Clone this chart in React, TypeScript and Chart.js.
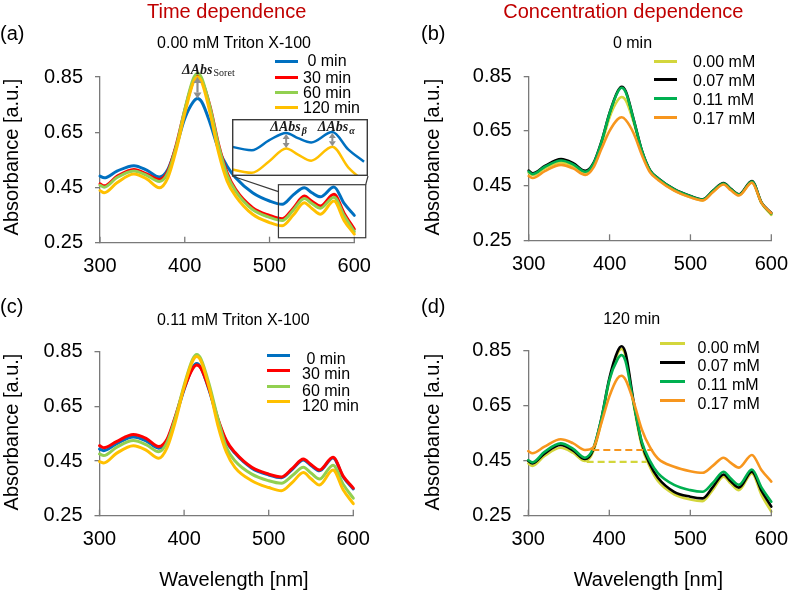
import React, { useEffect, useRef } from "react";
import { Chart, registerables } from "chart.js";

Chart.register(...registerables);

const FONT = "'Liberation Sans', Arial, Helvetica, sans-serif";
const SERIF = "'Liberation Serif', 'Times New Roman', serif";
const AXIS = "#7a7a7a";
const ARROW = "#8e8e8e";
const BOX = "#3a3a3a";

// ---------------- data ----------------
const WAVELENGTH = [300, 305, 320, 340, 355, 370, 380, 390, 400, 410, 415, 420, 430, 440, 450, 460, 480, 500, 515, 528, 541, 550, 560, 576, 588, 600];

const X_TICKS = [300, 400, 500, 600];
const Y_TICKS = [0.25, 0.45, 0.65, 0.85];

const TIME_LABELS = [" 0 min", "30 min", "60 min", "120 min"];
const CONC_LABELS = ["0.00 mM", "0.07 mM", "0.11 mM", "0.17 mM"];

const TIME_COLORS = ["#0070c0", "#ff0000", "#92d050", "#ffc000"];
const CONC_COLORS = ["#d3d63c", "#000000", "#00b050", "#f7961e"];

// (a) 0.00 mM Triton X-100
const A_0MIN = [0.491, 0.485, 0.509, 0.529, 0.513, 0.488, 0.515, 0.599, 0.700, 0.760, 0.772, 0.760, 0.682, 0.587, 0.527, 0.485, 0.431, 0.401, 0.389, 0.423, 0.449, 0.431, 0.416, 0.452, 0.392, 0.349];
const A_30MIN = [0.463, 0.456, 0.490, 0.515, 0.499, 0.479, 0.509, 0.605, 0.730, 0.835, 0.856, 0.838, 0.742, 0.605, 0.503, 0.443, 0.377, 0.349, 0.337, 0.375, 0.419, 0.400, 0.383, 0.425, 0.357, 0.299];
const A_60MIN = [0.458, 0.451, 0.486, 0.510, 0.494, 0.472, 0.503, 0.600, 0.732, 0.843, 0.864, 0.846, 0.738, 0.600, 0.495, 0.437, 0.370, 0.342, 0.330, 0.368, 0.410, 0.392, 0.375, 0.415, 0.348, 0.290];
const A_120MIN = [0.439, 0.431, 0.467, 0.499, 0.481, 0.449, 0.485, 0.587, 0.718, 0.830, 0.850, 0.832, 0.718, 0.575, 0.473, 0.419, 0.353, 0.323, 0.311, 0.350, 0.395, 0.374, 0.353, 0.401, 0.330, 0.281];

// (b) 0 min
const B_000 = [0.497, 0.489, 0.513, 0.535, 0.522, 0.497, 0.525, 0.600, 0.700, 0.762, 0.774, 0.762, 0.680, 0.575, 0.503, 0.473, 0.432, 0.408, 0.396, 0.428, 0.456, 0.436, 0.416, 0.462, 0.385, 0.343];
const B_007 = [0.505, 0.495, 0.522, 0.547, 0.532, 0.504, 0.532, 0.612, 0.716, 0.795, 0.812, 0.795, 0.690, 0.578, 0.507, 0.477, 0.437, 0.412, 0.400, 0.432, 0.459, 0.438, 0.418, 0.467, 0.388, 0.350];
const B_011 = [0.501, 0.492, 0.519, 0.542, 0.528, 0.501, 0.530, 0.610, 0.714, 0.792, 0.808, 0.792, 0.688, 0.577, 0.506, 0.476, 0.436, 0.411, 0.399, 0.431, 0.458, 0.437, 0.417, 0.465, 0.387, 0.347];
const B_017 = [0.485, 0.478, 0.503, 0.526, 0.513, 0.489, 0.516, 0.585, 0.650, 0.693, 0.700, 0.690, 0.640, 0.562, 0.499, 0.471, 0.432, 0.407, 0.396, 0.427, 0.454, 0.433, 0.414, 0.461, 0.386, 0.349];

// (c) 0.11 mM Triton X-100
const C_0MIN = [0.494, 0.488, 0.513, 0.538, 0.524, 0.497, 0.526, 0.612, 0.712, 0.792, 0.807, 0.790, 0.705, 0.600, 0.521, 0.479, 0.424, 0.399, 0.389, 0.420, 0.454, 0.434, 0.414, 0.461, 0.392, 0.348];
const C_30MIN = [0.506, 0.499, 0.521, 0.547, 0.533, 0.503, 0.531, 0.617, 0.715, 0.787, 0.801, 0.789, 0.709, 0.605, 0.525, 0.482, 0.427, 0.402, 0.392, 0.423, 0.457, 0.437, 0.417, 0.464, 0.395, 0.351];
const C_60MIN = [0.476, 0.470, 0.500, 0.525, 0.510, 0.484, 0.519, 0.612, 0.727, 0.822, 0.840, 0.823, 0.727, 0.605, 0.500, 0.451, 0.402, 0.378, 0.369, 0.397, 0.427, 0.406, 0.384, 0.435, 0.365, 0.314];
const C_120MIN = [0.448, 0.443, 0.478, 0.506, 0.490, 0.460, 0.500, 0.598, 0.721, 0.815, 0.832, 0.815, 0.715, 0.580, 0.482, 0.427, 0.378, 0.353, 0.341, 0.372, 0.408, 0.385, 0.362, 0.417, 0.345, 0.294];

// (d) 120 min
const D_000 = [0.440, 0.431, 0.467, 0.497, 0.479, 0.449, 0.483, 0.590, 0.740, 0.838, 0.856, 0.832, 0.655, 0.505, 0.428, 0.376, 0.328, 0.309, 0.303, 0.345, 0.392, 0.367, 0.343, 0.404, 0.325, 0.265];
const D_007 = [0.449, 0.440, 0.476, 0.507, 0.488, 0.456, 0.489, 0.600, 0.749, 0.846, 0.866, 0.842, 0.665, 0.515, 0.438, 0.388, 0.337, 0.319, 0.313, 0.355, 0.400, 0.375, 0.352, 0.410, 0.340, 0.283];
const D_011 = [0.452, 0.444, 0.482, 0.513, 0.494, 0.461, 0.494, 0.600, 0.743, 0.818, 0.834, 0.812, 0.660, 0.520, 0.450, 0.405, 0.362, 0.343, 0.337, 0.370, 0.410, 0.385, 0.362, 0.418, 0.352, 0.301];
const D_017 = [0.485, 0.477, 0.501, 0.528, 0.514, 0.489, 0.497, 0.585, 0.683, 0.749, 0.759, 0.745, 0.665, 0.565, 0.500, 0.458, 0.428, 0.412, 0.406, 0.432, 0.461, 0.442, 0.425, 0.471, 0.415, 0.374];

// dashed baselines in (d)
const DASH_ORANGE_X = [379, 454];
const DASH_ORANGE_Y = 0.489;
const DASH_YELLOW_X = [372, 446];
const DASH_YELLOW_Y = 0.446;

// annotation anchors
const SORET_NM = 415;
const BETA_NM = 541;
const ALPHA_NM = 576;
const ZOOM_BOX_X = [510.5, 613.5];
const ZOOM_BOX_Y = [0.268, 0.46];
const ZOOM_LINK_Y = 0.435;
const INSET_X = [500, 603];
const INSET_Y = [0.3, 0.497];

// ---------------- layout ----------------
type Rect = { left: number; top: number; width: number; height: number };
type Area = { left: number; top: number; right: number; bottom: number };
type Series = { label: string; data: number[]; color: string };

interface PanelDef {
  canvas: Rect;
  area: Area;
  series: Series[];
  lineWidth: number;
  dashes?: { x: number[]; y: number; color: string }[];
  annotate?: (chart: any, p: PanelDef) => void;
}

const INSET: Rect = { left: 232, top: 119, width: 136, height: 57 };

function doubleArrow(ctx: CanvasRenderingContext2D, x: number, yTop: number, yBot: number, head: number, halfW: number, lw: number) {
  ctx.save();
  ctx.strokeStyle = ARROW;
  ctx.fillStyle = ARROW;
  ctx.lineWidth = lw;
  ctx.beginPath();
  ctx.moveTo(x, yTop + head);
  ctx.lineTo(x, yBot - head);
  ctx.stroke();
  ctx.beginPath();
  ctx.moveTo(x, yTop);
  ctx.lineTo(x - halfW, yTop + head);
  ctx.lineTo(x + halfW, yTop + head);
  ctx.closePath();
  ctx.fill();
  ctx.beginPath();
  ctx.moveTo(x, yBot);
  ctx.lineTo(x - halfW, yBot - head);
  ctx.lineTo(x + halfW, yBot - head);
  ctx.closePath();
  ctx.fill();
  ctx.restore();
}

function deltaLabel(ctx: CanvasRenderingContext2D, x: number, baseline: number, sub: string, subFont: string, subDrop: number) {
  ctx.save();
  ctx.fillStyle = "#1a1a1a";
  ctx.textAlign = "left";
  ctx.textBaseline = "alphabetic";
  ctx.font = `bold italic 14px ${SERIF}`;
  ctx.fillText("ΔAbs", x, baseline);
  const w = ctx.measureText("ΔAbs").width;
  ctx.font = subFont;
  ctx.fillText(sub, x + w + 1, baseline + subDrop);
  ctx.restore();
}

function annotateA(chart: any, p: PanelDef) {
  const { ctx, scales } = chart;
  const x = scales.x;
  const y = scales.y;
  const k = WAVELENGTH.indexOf(SORET_NM);
  const px = x.getPixelForValue(SORET_NM);
  const yTop = y.getPixelForValue(A_120MIN[k]);
  const yBot = y.getPixelForValue(A_0MIN[k]);
  doubleArrow(ctx, px, yTop, yBot, 6, 4, 2.2);
  deltaLabel(ctx, px - 15.5, yTop - 3, "Soret", `10px ${SERIF}`, 1.5);

  const bx1 = x.getPixelForValue(ZOOM_BOX_X[0]);
  const bx2 = x.getPixelForValue(ZOOM_BOX_X[1]);
  const by1 = y.getPixelForValue(ZOOM_BOX_Y[1]);
  const by2 = y.getPixelForValue(ZOOM_BOX_Y[0]);
  const ox = p.canvas.left;
  const oy = p.canvas.top;
  ctx.save();
  ctx.strokeStyle = BOX;
  ctx.lineWidth = 1.2;
  ctx.strokeRect(bx1, by1, bx2 - bx1, by2 - by1);
  ctx.beginPath();
  ctx.moveTo(INSET.left - ox, INSET.top + INSET.height - oy);
  ctx.lineTo(bx1, y.getPixelForValue(ZOOM_LINK_Y));
  ctx.moveTo(INSET.left + INSET.width - ox, INSET.top + INSET.height - oy);
  ctx.lineTo(bx2, by1);
  ctx.stroke();
  ctx.restore();
}

const PANELS: PanelDef[] = [
  {
    canvas: { left: 0, top: 0, width: 400, height: 296 },
    area: { left: 100, top: 77, right: 354.3, bottom: 242.7 },
    series: TIME_LABELS.map((l, i) => ({ label: l, data: [A_0MIN, A_30MIN, A_60MIN, A_120MIN][i], color: TIME_COLORS[i] })),
    lineWidth: 3,
    annotate: annotateA,
  },
  {
    canvas: { left: 400, top: 0, width: 400, height: 296 },
    area: { left: 528.7, top: 76.3, right: 781.7, bottom: 240.3 },
    series: CONC_LABELS.map((l, i) => ({ label: l, data: [B_000, B_007, B_011, B_017][i], color: CONC_COLORS[i] })),
    lineWidth: 2.6,
  },
  {
    canvas: { left: 0, top: 296, width: 400, height: 297 },
    area: { left: 99.5, top: 351.7, right: 353.3, bottom: 515.7 },
    series: TIME_LABELS.map((l, i) => ({ label: l, data: [C_0MIN, C_30MIN, C_60MIN, C_120MIN][i], color: TIME_COLORS[i] })),
    lineWidth: 3,
  },
  {
    canvas: { left: 400, top: 296, width: 400, height: 297 },
    area: { left: 528.3, top: 350.7, right: 780, bottom: 515.7 },
    series: CONC_LABELS.map((l, i) => ({ label: l, data: [D_000, D_007, D_011, D_017][i], color: CONC_COLORS[i] })),
    lineWidth: 2.6,
    dashes: [
      { x: DASH_ORANGE_X, y: DASH_ORANGE_Y, color: CONC_COLORS[3] },
      { x: DASH_YELLOW_X, y: DASH_YELLOW_Y, color: CONC_COLORS[0] },
    ],
  },
];

function buildChart(el: HTMLCanvasElement, p: PanelDef) {
  const padTop = p.area.top - p.canvas.top;
  const padRight = p.canvas.left + p.canvas.width - p.area.right;
  const yWidth = p.area.left - p.canvas.left;
  const xHeight = p.canvas.top + p.canvas.height - p.area.bottom;
  const n = p.series.length;
  const datasets: any[] = p.series.map((s, i) => ({
    label: s.label,
    data: WAVELENGTH.map((w, j) => ({ x: w, y: s.data[j] })),
    borderColor: s.color,
    backgroundColor: s.color,
    borderWidth: p.lineWidth,
    pointRadius: 0,
    cubicInterpolationMode: "monotone",
    fill: false,
    clip: false,
    order: n - i + 1,
    borderCapStyle: "round",
    borderJoinStyle: "round",
  }));
  (p.dashes || []).forEach((d) => {
    datasets.push({
      label: "",
      data: d.x.map((x) => ({ x, y: d.y })),
      borderColor: d.color,
      borderWidth: 2.2,
      borderDash: [7, 4],
      pointRadius: 0,
      fill: false,
      clip: false,
      order: 0,
    });
  });

  const decor = {
    id: "decor",
    afterDraw(chart: any) {
      const { ctx, chartArea, scales } = chart;
      ctx.save();
      ctx.strokeStyle = AXIS;
      ctx.lineWidth = 1.3;
      X_TICKS.forEach((v) => {
        const px = scales.x.getPixelForValue(v);
        ctx.beginPath();
        ctx.moveTo(px, chartArea.bottom);
        ctx.lineTo(px, chartArea.bottom - 6);
        ctx.stroke();
      });
      ctx.restore();
      if (p.annotate) p.annotate(chart, p);
    },
  };

  return new Chart(el, {
    type: "line",
    data: { datasets },
    plugins: [decor],
    options: {
      animation: false,
      responsive: false,
      maintainAspectRatio: false,
      events: [],
      layout: { padding: { top: padTop, right: padRight, left: 0, bottom: 0 } },
      plugins: { legend: { display: false }, tooltip: { enabled: false }, title: { display: false } },
      scales: {
        x: {
          type: "linear",
          min: 300,
          max: 600,
          afterBuildTicks: (s: any) => {
            s.ticks = X_TICKS.map((v) => ({ value: v }));
          },
          afterFit: (s: any) => {
            s.height = xHeight;
          },
          grid: { display: true, drawOnChartArea: false, drawTicks: false, color: AXIS },
          border: { display: true, color: AXIS, width: 1.3 },
          ticks: { color: "#000", font: { family: FONT, size: 20 }, padding: 12, maxRotation: 0, autoSkip: false },
        },
        y: {
          type: "linear",
          min: 0.25,
          max: 0.85,
          afterBuildTicks: (s: any) => {
            s.ticks = Y_TICKS.map((v) => ({ value: v }));
          },
          afterFit: (s: any) => {
            s.width = yWidth;
          },
          grid: { display: true, drawOnChartArea: false, drawTicks: true, tickLength: 5, color: AXIS, lineWidth: 1.3 },
          border: { display: true, color: AXIS, width: 1.3 },
          ticks: {
            color: "#000",
            font: { family: FONT, size: 20 },
            padding: 12,
            autoSkip: false,
            callback: (v: any) => Number(v).toFixed(2),
          },
        },
      },
    } as any,
  });
}

function buildInset(el: HTMLCanvasElement) {
  const series = [
    { data: A_0MIN, color: TIME_COLORS[0] },
    { data: A_120MIN, color: TIME_COLORS[3] },
  ];
  const datasets = series.map((s) => ({
    data: WAVELENGTH.map((w, j) => ({ x: w, y: s.data[j] })),
    borderColor: s.color,
    borderWidth: 2.5,
    pointRadius: 0,
    cubicInterpolationMode: "monotone",
    fill: false,
  }));
  const insetDecor = {
    id: "insetDecor",
    afterDraw(chart: any) {
      const { ctx, scales } = chart;
      const x = scales.x;
      const y = scales.y;
      [BETA_NM, ALPHA_NM].forEach((nm, i) => {
        const k = WAVELENGTH.indexOf(nm);
        const px = x.getPixelForValue(nm);
        const yTop = y.getPixelForValue(A_0MIN[k]) + 1;
        const yBot = y.getPixelForValue(A_120MIN[k]) - 0.5;
        doubleArrow(ctx, px, yTop, yBot, 5, 3.5, 2);
        deltaLabel(ctx, px - (i === 0 ? 16 : 14.6), 12, i === 0 ? "β" : "α", `bold italic 10px ${SERIF}`, 2.5);
      });
      ctx.save();
      ctx.strokeStyle = BOX;
      ctx.lineWidth = 1.4;
      ctx.strokeRect(0.7, 0.7, chart.width - 1.4, chart.height - 1.4);
      ctx.restore();
    },
  };
  return new Chart(el, {
    type: "line",
    data: { datasets },
    plugins: [insetDecor],
    options: {
      animation: false,
      responsive: false,
      maintainAspectRatio: false,
      events: [],
      layout: { padding: 0 },
      plugins: { legend: { display: false }, tooltip: { enabled: false } },
      scales: {
        x: { type: "linear", min: INSET_X[0], max: INSET_X[1], display: false },
        y: { type: "linear", min: INSET_Y[0], max: INSET_Y[1], display: false },
      },
    } as any,
  });
}

// ---------------- text layout ----------------
type Legend = { labels: string[]; colors: string[]; lineLeft: number; lineW: number; textLeft: number; lineY: number[]; textY: number[] };

const LEGENDS: Legend[] = [
  { labels: TIME_LABELS, colors: TIME_COLORS, lineLeft: 275, lineW: 23, textLeft: 303, lineY: [61, 77.7, 92.3, 107.3], textY: [61, 77.5, 92.5, 107.5] },
  { labels: CONC_LABELS, colors: CONC_COLORS, lineLeft: 654, lineW: 23.3, textLeft: 693, lineY: [61, 79.3, 98.3, 117.3], textY: [61.7, 80.5, 99.7, 119] },
  { labels: TIME_LABELS, colors: TIME_COLORS, lineLeft: 267, lineW: 23.3, textLeft: 302, lineY: [355, 370, 386, 401.5], textY: [358.5, 374, 390.5, 405.5] },
  { labels: CONC_LABELS, colors: CONC_COLORS, lineLeft: 660, lineW: 25, textLeft: 697.5, lineY: [343.3, 362.3, 381, 400], textY: [347.5, 365.7, 384.7, 404] },
];

function Centered(props: { cx: number; top: number; size: number; color?: string; children: any }) {
  return (
    <div
      style={{
        position: "absolute",
        left: props.cx - 200,
        top: props.top,
        width: 400,
        textAlign: "center",
        fontSize: props.size,
        lineHeight: `${props.size}px`,
        color: props.color || "#000",
        whiteSpace: "pre",
      }}
    >
      {props.children}
    </div>
  );
}

function YTitle(props: { cx: number; cy: number }) {
  return (
    <div
      style={{
        position: "absolute",
        left: props.cx - 110,
        top: props.cy - 10,
        width: 220,
        height: 20,
        lineHeight: "20px",
        fontSize: 20,
        textAlign: "center",
        transform: "rotate(-90deg)",
        whiteSpace: "pre",
      }}
    >
      Absorbance [a.u.]
    </div>
  );
}

export default function App() {
  const canvasRefs = useRef<(HTMLCanvasElement | null)[]>([]);
  const insetRef = useRef<HTMLCanvasElement | null>(null);

  useEffect(() => {
    const charts: any[] = [];
    PANELS.forEach((p, i) => {
      const el = canvasRefs.current[i];
      if (el) charts.push(buildChart(el, p));
    });
    if (insetRef.current) charts.push(buildInset(insetRef.current));
    return () => charts.forEach((c) => c.destroy());
  }, []);

  return (
    <div
      style={{
        position: "absolute",
        left: 0,
        top: 0,
        width: 800,
        height: 593,
        background: "#fff",
        overflow: "hidden",
        fontFamily: FONT,
        color: "#000",
      }}
    >
      {PANELS.map((p, i) => (
        <canvas
          key={i}
          ref={(el) => {
            canvasRefs.current[i] = el;
          }}
          width={p.canvas.width}
          height={p.canvas.height}
          style={{ position: "absolute", left: p.canvas.left, top: p.canvas.top, width: p.canvas.width, height: p.canvas.height }}
        />
      ))}
      <canvas
        ref={insetRef}
        width={INSET.width}
        height={INSET.height}
        style={{ position: "absolute", left: INSET.left, top: INSET.top, width: INSET.width, height: INSET.height, background: "#fff" }}
      />

      <Centered cx={226.7} top={1} size={20} color="#c00000">Time dependence</Centered>
      <Centered cx={623.3} top={1} size={20} color="#c00000">Concentration dependence</Centered>

      <div style={{ position: "absolute", left: 0, top: 23.3, fontSize: 20, lineHeight: "20px" }}>(a)</div>
      <div style={{ position: "absolute", left: 421, top: 23.3, fontSize: 20, lineHeight: "20px" }}>(b)</div>
      <div style={{ position: "absolute", left: 0, top: 296.3, fontSize: 20, lineHeight: "20px" }}>(c)</div>
      <div style={{ position: "absolute", left: 421, top: 296.3, fontSize: 20, lineHeight: "20px" }}>(d)</div>

      <Centered cx={234} top={35} size={16}>0.00 mM Triton X-100</Centered>
      <Centered cx={632.5} top={35} size={16}>0 min</Centered>
      <Centered cx={233.3} top={312} size={16}>0.11 mM Triton X-100</Centered>
      <Centered cx={631.7} top={311} size={16}>120 min</Centered>

      <YTitle cx={10.7} cy={157} />
      <YTitle cx={432.4} cy={157} />
      <YTitle cx={10.7} cy={432} />
      <YTitle cx={432.4} cy={432} />

      <Centered cx={234} top={569} size={20}>Wavelength [nm]</Centered>
      <Centered cx={648.3} top={569} size={20}>Wavelength [nm]</Centered>

      {LEGENDS.map((lg, li) =>
        lg.labels.map((label, i) => (
          <React.Fragment key={`${li}-${i}`}>
            <div
              style={{
                position: "absolute",
                left: lg.lineLeft,
                top: lg.lineY[i] - 1.5,
                width: lg.lineW,
                height: 3,
                background: lg.colors[i],
              }}
            />
            <div
              style={{
                position: "absolute",
                left: lg.textLeft,
                top: lg.textY[i] - 8,
                fontSize: 16,
                lineHeight: "16px",
                whiteSpace: "pre",
              }}
            >
              {label}
            </div>
          </React.Fragment>
        ))
      )}
    </div>
  );
}
